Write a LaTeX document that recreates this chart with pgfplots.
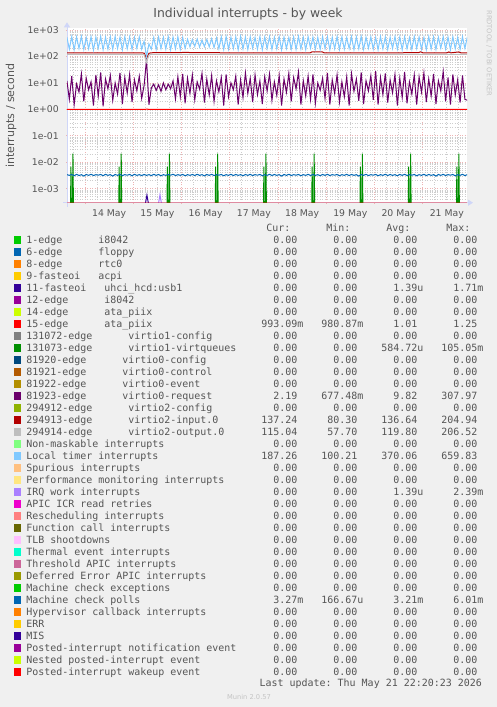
\documentclass[border=0pt]{standalone}
\usepackage{fontspec}
\setmainfont{DejaVu Sans}
\newfontfamily\mono{DejaVu Sans Mono}
\usepackage{pgfplots}
\pgfplotsset{compat=1.18}
\usepackage{pgfplotstable}
\usetikzlibrary{arrows.meta}

\definecolor{bg}{HTML}{F0F0F0}
\definecolor{fg}{HTML}{555555}
\definecolor{wm}{HTML}{C4C4C4}
\definecolor{axc}{HTML}{CFD6F8}
\definecolor{gmaj}{HTML}{EDB4B4}
\definecolor{gmin}{HTML}{CDCDCD}
\definecolor{c00}{HTML}{00CC00}
\definecolor{c01}{HTML}{0066B3}
\definecolor{c02}{HTML}{FF8000}
\definecolor{c03}{HTML}{FFCC00}
\definecolor{c04}{HTML}{330099}
\definecolor{c05}{HTML}{990099}
\definecolor{c06}{HTML}{CCFF00}
\definecolor{c07}{HTML}{FF0000}
\definecolor{c08}{HTML}{808080}
\definecolor{c09}{HTML}{008F00}
\definecolor{c10}{HTML}{00487D}
\definecolor{c11}{HTML}{B35A00}
\definecolor{c12}{HTML}{B38F00}
\definecolor{c13}{HTML}{6B006B}
\definecolor{c14}{HTML}{8FB300}
\definecolor{c15}{HTML}{B30000}
\definecolor{c16}{HTML}{BEBEBE}
\definecolor{c17}{HTML}{80FF80}
\definecolor{c18}{HTML}{80C9FF}
\definecolor{c19}{HTML}{FFC080}
\definecolor{c20}{HTML}{FFE680}
\definecolor{c21}{HTML}{AA80FF}
\definecolor{c22}{HTML}{EE00CC}
\definecolor{c23}{HTML}{FF8080}
\definecolor{c24}{HTML}{666600}
\definecolor{c25}{HTML}{FFBFFF}
\definecolor{c26}{HTML}{00FFCC}
\definecolor{c27}{HTML}{CC6699}
\definecolor{c28}{HTML}{999900}

\newcommand{\vc}[2]{\makebox[60bp][r]{#1\makebox[6bp][l]{#2}}}
\newcommand{\zz}{\vc{0.00}{}}
\newcommand{\hd}[1]{\makebox[60bp][r]{#1\hspace{13bp}}}
\newcommand{\lrow}[5]{\makebox[217bp][l]{#1}#2#3#4#5}

\pgfplotsset{sq/.style={legend image code/.code={\fill[#1] (0bp,-2.2bp) rectangle (6.5bp,4.3bp);}}}

\begin{document}
\frenchspacing
\pgfplotstableread{
t lt p mcp
-9.0 530 12 0.00340
-7.8 190 2.4 0.00320
-6.6 560 18 0.00345
-5.4 180 1.5 0.00310
-4.2 545 9 0.00350
-3.0 200 4.5 0.00315
-1.8 570 22 0.00340
-0.6 185 2.0 0.00300
0.6 520 15 0.00345
1.8 195 5.5 0.00320
3.0 555 11 0.00350
4.2 175 1.4 0.00315
5.4 540 20 0.00340
6.6 205 3.2 0.00325
7.8 565 25 0.00345
9.0 180 1.3 0.00310
10.2 530 14 0.00350
11.4 190 6 0.00320
12.6 550 19 0.00340
13.8 185 2.2 0.00300
15.0 575 10 0.00345
16.2 200 3.8 0.00320
17.4 535 24 0.00350
18.6 180 1.6 0.00315
19.8 560 16 0.00340
21.0 195 4.2 0.00325
22.2 545 21 0.00345
23.4 185 1.9 0.00310
24.6 525 13 0.00350
25.8 200 5 0.00320
27.0 555 18 0.00340
28.2 190 2.6 0.00315
29.4 380 8 0.00345
30.6 98 75 0.00320
31.8 300 1.5 0.00340
33.0 190 6.5 0.00315
34.2 520 9 0.00350
35.4 185 5.2 0.00320
36.6 545 8.5 0.00345
37.8 200 4.8 0.00310
39.0 530 10 0.00340
40.2 190 5.5 0.00320
41.4 560 9 0.00345
42.6 180 6 0.00325
43.8 540 12 0.00350
45.0 195 2.5 0.00315
46.2 555 17 0.00340
47.4 185 3.0 0.00320
48.6 525 22 0.00345
49.8 200 1.7 0.00310
51.0 450 15 0.00340
52.2 230 4.0 0.00320
53.4 430 20 0.00345
54.6 240 2.3 0.00315
55.8 460 11 0.00350
57.0 225 5.8 0.00320
58.2 420 23 0.00340
59.4 235 1.8 0.00305
60.6 440 14 0.00345
61.8 230 3.5 0.00320
63.0 470 19 0.00350
64.2 215 2.0 0.00315
65.4 500 12 0.00340
66.6 195 4.6 0.00325
67.8 550 16 0.00345
69.0 185 1.4 0.00310
70.2 565 21 0.00340
71.4 190 3.0 0.00320
72.6 530 10 0.00350
73.8 200 5.5 0.00315
75.0 550 18 0.00345
76.2 180 1.5 0.00320
77.4 570 13 0.00340
78.6 195 2.8 0.00310
79.8 535 24 0.00345
81.0 185 4.0 0.00320
82.2 545 15 0.00350
83.4 205 1.9 0.00315
84.6 525 20 0.00340
85.8 190 3.6 0.00325
87.0 560 12 0.00345
88.2 180 1.6 0.00310
89.4 540 17 0.00340
90.6 200 5.0 0.00320
91.8 555 22 0.00350
93.0 185 2.2 0.00315
94.2 530 11 0.00345
95.4 195 3.4 0.00320
96.6 565 19 0.00340
97.8 180 1.4 0.00300
99.0 545 14 0.00345
100.2 200 4.4 0.00320
101.4 520 23 0.00350
102.6 190 2.0 0.00315
103.8 550 16 0.00340
105.0 185 6.0 0.00325
106.2 570 26 0.00345
107.4 195 1.5 0.00310
108.6 535 12 0.00340
109.8 180 3.2 0.00320
111.0 555 18 0.00350
112.2 205 2.4 0.00315
113.4 540 21 0.00345
114.6 190 1.7 0.00320
115.8 525 10 0.00340
117.0 185 5.2 0.00310
118.2 560 15 0.00345
119.4 200 2.6 0.00320
120.6 545 24 0.00350
121.8 180 1.5 0.00315
123.0 530 13 0.00340
124.2 195 4.0 0.00325
125.4 565 20 0.00345
126.6 185 1.9 0.00310
127.8 550 11 0.00340
129.0 190 3.0 0.00320
130.2 520 17 0.00350
131.4 200 1.4 0.00315
132.6 555 22 0.00345
133.8 180 4.8 0.00320
135.0 540 14 0.00340
136.2 195 2.1 0.00300
137.4 570 25 0.00345
138.6 185 1.6 0.00320
139.8 535 12 0.00350
141.0 205 5.0 0.00315
142.2 550 19 0.00340
143.4 190 2.3 0.00325
144.6 525 28 0.00345
145.8 180 1.5 0.00310
147.0 560 16 0.00340
148.2 195 3.6 0.00320
149.4 545 23 0.00350
150.6 185 1.8 0.00315
151.8 530 13 0.00345
153.0 200 4.2 0.00320
154.2 565 21 0.00340
155.4 190 1.4 0.00310
156.6 540 15 0.00345
157.8 180 2.8 0.00320
159.0 555 26 0.00350
160.2 195 1.7 0.00315
161.4 520 11 0.00340
162.6 185 3.8 0.00325
163.8 570 20 0.00345
165.0 200 1.5 0.00310
166.2 545 17 0.00340
167.4 190 4.5 0.00320
168.6 530 24 0.00350
169.8 180 1.9 0.00315
171.0 560 14 0.00345
172.2 195 3.2 0.00320
173.4 550 22 0.00340
174.6 185 1.6 0.00300
175.8 535 12 0.00345
177.0 205 5.0 0.00320
178.2 565 27 0.00350
179.4 190 2.0 0.00315
180.6 540 16 0.00340
181.8 180 1.5 0.00325
183.0 555 21 0.00345
184.2 195 3.5 0.00310
185.4 525 13 0.00340
186.6 185 1.8 0.00320
187.8 560 19 0.00350
189.0 200 2.4 0.00315
190.2 545 2.2 0.00340
}\dense
\begin{tikzpicture}
\path[use as bounding box, fill=bg] (0,0) rectangle (497bp,707bp);
\begin{axis}[
  at={(67bp,504.3bp)}, anchor=south west,
  scale only axis, width=400bp, height=174.4bp,
  xmin=-8.96, xmax=190.04,
  ymode=log, ymin=2.96e-4, ymax=1160,
  axis lines=left,
  axis line style={draw=axc, line width=1bp},
  x axis line style={-{Triangle[length=5bp,width=6bp]}, shorten >=-6bp, shorten <=-4bp},
  y axis line style={-{Triangle[length=5bp,width=6bp]}, shorten >=-6bp, shorten <=-4bp},
  axis background/.style={fill=white},
  xtick={0,24,...,168}, xticklabels={},
  minor xtick={-6,6,12,18,30,36,42,54,60,66,78,84,90,102,108,114,126,132,138,150,156,162,174,180,186},
  extra x ticks={12,36,60,84,108,132,156,180},
  extra x tick labels={14 May,15 May,16 May,17 May,18 May,19 May,20 May,21 May},
  extra x tick style={grid=none, major tick length=0pt},
  xmajorgrids, xminorgrids, ymajorgrids, yminorgrids,
  ytick={1e-3,1e-2,1e-1,1,10,100,1000},
  yticklabels={1e-03,1e-02,1e-01,1e+00,1e+01,1e+02,1e+03},
  minor ytick={3e-4,4e-4,5e-4,6e-4,7e-4,8e-4,9e-4,
    2e-3,3e-3,4e-3,5e-3,6e-3,7e-3,8e-3,9e-3,
    2e-2,3e-2,4e-2,5e-2,6e-2,7e-2,8e-2,9e-2,
    0.2,0.3,0.4,0.5,0.6,0.7,0.8,0.9,
    2,3,4,5,6,7,8,9,
    20,30,40,50,60,70,80,90,
    200,300,400,500,600,700,800,900},
  major grid style={draw=gmaj, line width=0.8bp, dash pattern=on 1bp off 1.5bp},
  minor grid style={draw=gmin, line width=0.8bp, dash pattern=on 1bp off 1.5bp},
  every tick/.style={draw=gmaj, line width=0.8bp},
  major tick length=2bp, minor tick length=0pt,
  tick label style={font=\fontsize{9.3bp}{11bp}\selectfont, text=fg, inner sep=0pt},
  yticklabel style={anchor=east, xshift=-7bp},
  xticklabel style={anchor=base, yshift=-13.4bp},
  ylabel={interrupts / second},
  ylabel style={font=\fontsize{11bp}{13bp}\selectfont, text=fg, at={(axis description cs:-0.14,0.5)}, anchor=center},
  title={Individual interrupts - by week},
  title style={font=\fontsize{12.4bp}{14bp}\selectfont, text=fg, at={(axis description cs:0.4525,1)}, anchor=base, yshift=4.5bp, inner sep=0pt},
  legend style={at={(axis description cs:-0.1325,-0.11486)}, anchor=north west, draw=none, fill=none,
    inner sep=0pt, outer sep=0pt, row sep=0pt, column sep=5.5bp,
    font=\mono\fontsize{9.97bp}{12bp}\selectfont, text=fg,
    nodes={inner sep=0pt, text height=8.5bp, text depth=3.5bp}},
  legend cell align=left,
  clip=true,
]
% 11-fasteoi uhci_hcd:usb1
\addplot[c04, line width=1bp, forget plot] coordinates {(30.1,2.9e-4)(30.8,5.7e-4)(31.5,2.9e-4)};
% 15-edge ata_piix
\addplot[c07, line width=1bp, forget plot] coordinates {(-9,1.0)(30,1.0)(30.8,1.03)(31.6,1.0)(190.2,1.0)};
% 131073-edge virtio1-virtqueues
\addplot[c09, line width=1bp, forget plot] coordinates {
(-7.5,1e-6)(-7,0.0068)(-6.5,1e-6)(-6,0.021)(-5.5,1e-6)
(16.5,1e-6)(17,0.0068)(17.5,1e-6)(18,0.021)(18.5,1e-6)
(40.5,1e-6)(41,0.0068)(41.5,1e-6)(42,0.021)(42.5,1e-6)
(64.5,1e-6)(65,0.0068)(65.5,1e-6)(66,0.021)(66.5,1e-6)
(88.5,1e-6)(89,0.0068)(89.5,1e-6)(90,0.021)(90.5,1e-6)
(112.5,1e-6)(113,0.0068)(113.5,1e-6)(114,0.021)(114.5,1e-6)
(136.5,1e-6)(137,0.0068)(137.5,1e-6)(138,0.021)(138.5,1e-6)
(160.5,1e-6)(161,0.0068)(161.5,1e-6)(162,0.021)(162.5,1e-6)
(184.5,1e-6)(185,0.0068)(185.5,1e-6)(186,0.021)(186.5,1e-6)};
% 81923-edge virtio0-request
\addplot[c13, line width=1bp, forget plot] table[x=t,y=p]{\dense};
% 294913-edge virtio2-input.0
\addplot[c15, line width=1bp, forget plot] coordinates {(-9,138)(10,136)(20,137)(29.4,135)(30.6,85)(31.8,132)(33,138)(46,140)(50,142)(56,139)(80,137)(100,136)(112,137)(113,150)(118,150)(119,137)(150,136)(166,140)(167,150)(168,138)(180,137)(181,148)(182,137)(186,148)(187,137)(190.2,137)};
% 294914-edge virtio2-output.0
\addplot[c16, line width=1bp, forget plot] coordinates {(-9,121)(29.4,118)(30.6,60)(31.8,112)(33,121)(190.2,120)};
% Local timer interrupts
\addplot[c18, line width=1bp, forget plot] table[x=t,y=lt]{\dense};
% IRQ work interrupts
\addplot[c21, line width=1bp, forget plot] coordinates {(36.6,2.9e-4)(37.3,5.9e-4)(38.0,2.9e-4)};
% Machine check polls
\addplot[c01, line width=1bp, forget plot] table[x=t,y=mcp]{\dense};
% zero-valued series at the floor
\addplot[c07, line width=1bp, opacity=0.35, forget plot] coordinates {(-9,2.96e-4)(190.2,2.96e-4)};

\addlegendimage{empty legend}\addlegendentry{{\makebox[217bp]{}\hd{Cur:}\hd{Min:}\hd{Avg:}\hd{Max:}}}
\addlegendimage{sq=c00}\addlegendentry{{\lrow{1-edge~~~~~~i8042}{\zz}{\zz}{\zz}{\zz}}}
\addlegendimage{sq=c01}\addlegendentry{{\lrow{6-edge~~~~~~floppy}{\zz}{\zz}{\zz}{\zz}}}
\addlegendimage{sq=c02}\addlegendentry{{\lrow{8-edge~~~~~~rtc0}{\zz}{\zz}{\zz}{\zz}}}
\addlegendimage{sq=c03}\addlegendentry{{\lrow{9-fasteoi~~~acpi}{\zz}{\zz}{\zz}{\zz}}}
\addlegendimage{sq=c04}\addlegendentry{{\lrow{11-fasteoi~~~uhci\_hcd:usb1}{\zz}{\zz}{\vc{1.39}{u}}{\vc{1.71}{m}}}}
\addlegendimage{sq=c05}\addlegendentry{{\lrow{12-edge~~~~~~i8042}{\zz}{\zz}{\zz}{\zz}}}
\addlegendimage{sq=c06}\addlegendentry{{\lrow{14-edge~~~~~~ata\_piix}{\zz}{\zz}{\zz}{\zz}}}
\addlegendimage{sq=c07}\addlegendentry{{\lrow{15-edge~~~~~~ata\_piix}{\vc{993.09}{m}}{\vc{980.87}{m}}{\vc{1.01}{}}{\vc{1.25}{}}}}
\addlegendimage{sq=c08}\addlegendentry{{\lrow{131072-edge~~~~~~virtio1-config}{\zz}{\zz}{\zz}{\zz}}}
\addlegendimage{sq=c09}\addlegendentry{{\lrow{131073-edge~~~~~~virtio1-virtqueues}{\zz}{\zz}{\vc{584.72}{u}}{\vc{105.05}{m}}}}
\addlegendimage{sq=c10}\addlegendentry{{\lrow{81920-edge~~~~~~virtio0-config}{\zz}{\zz}{\zz}{\zz}}}
\addlegendimage{sq=c11}\addlegendentry{{\lrow{81921-edge~~~~~~virtio0-control}{\zz}{\zz}{\zz}{\zz}}}
\addlegendimage{sq=c12}\addlegendentry{{\lrow{81922-edge~~~~~~virtio0-event}{\zz}{\zz}{\zz}{\zz}}}
\addlegendimage{sq=c13}\addlegendentry{{\lrow{81923-edge~~~~~~virtio0-request}{\vc{2.19}{}}{\vc{677.48}{m}}{\vc{9.82}{}}{\vc{307.97}{}}}}
\addlegendimage{sq=c14}\addlegendentry{{\lrow{294912-edge~~~~~~virtio2-config}{\zz}{\zz}{\zz}{\zz}}}
\addlegendimage{sq=c15}\addlegendentry{{\lrow{294913-edge~~~~~~virtio2-input.0}{\vc{137.24}{}}{\vc{80.30}{}}{\vc{136.64}{}}{\vc{204.94}{}}}}
\addlegendimage{sq=c16}\addlegendentry{{\lrow{294914-edge~~~~~~virtio2-output.0}{\vc{115.04}{}}{\vc{57.70}{}}{\vc{119.80}{}}{\vc{206.52}{}}}}
\addlegendimage{sq=c17}\addlegendentry{{\lrow{Non-maskable interrupts}{\zz}{\zz}{\zz}{\zz}}}
\addlegendimage{sq=c18}\addlegendentry{{\lrow{Local timer interrupts}{\vc{187.26}{}}{\vc{100.21}{}}{\vc{370.06}{}}{\vc{659.83}{}}}}
\addlegendimage{sq=c19}\addlegendentry{{\lrow{Spurious interrupts}{\zz}{\zz}{\zz}{\zz}}}
\addlegendimage{sq=c20}\addlegendentry{{\lrow{Performance monitoring interrupts}{\zz}{\zz}{\zz}{\zz}}}
\addlegendimage{sq=c21}\addlegendentry{{\lrow{IRQ work interrupts}{\zz}{\zz}{\vc{1.39}{u}}{\vc{2.39}{m}}}}
\addlegendimage{sq=c22}\addlegendentry{{\lrow{APIC ICR read retries}{\zz}{\zz}{\zz}{\zz}}}
\addlegendimage{sq=c23}\addlegendentry{{\lrow{Rescheduling interrupts}{\zz}{\zz}{\zz}{\zz}}}
\addlegendimage{sq=c24}\addlegendentry{{\lrow{Function call interrupts}{\zz}{\zz}{\zz}{\zz}}}
\addlegendimage{sq=c25}\addlegendentry{{\lrow{TLB shootdowns}{\zz}{\zz}{\zz}{\zz}}}
\addlegendimage{sq=c26}\addlegendentry{{\lrow{Thermal event interrupts}{\zz}{\zz}{\zz}{\zz}}}
\addlegendimage{sq=c27}\addlegendentry{{\lrow{Threshold APIC interrupts}{\zz}{\zz}{\zz}{\zz}}}
\addlegendimage{sq=c28}\addlegendentry{{\lrow{Deferred Error APIC interrupts}{\zz}{\zz}{\zz}{\zz}}}
\addlegendimage{sq=c00}\addlegendentry{{\lrow{Machine check exceptions}{\zz}{\zz}{\zz}{\zz}}}
\addlegendimage{sq=c01}\addlegendentry{{\lrow{Machine check polls}{\vc{3.27}{m}}{\vc{166.67}{u}}{\vc{3.21}{m}}{\vc{6.01}{m}}}}
\addlegendimage{sq=c02}\addlegendentry{{\lrow{Hypervisor callback interrupts}{\zz}{\zz}{\zz}{\zz}}}
\addlegendimage{sq=c03}\addlegendentry{{\lrow{ERR}{\zz}{\zz}{\zz}{\zz}}}
\addlegendimage{sq=c04}\addlegendentry{{\lrow{MIS}{\zz}{\zz}{\zz}{\zz}}}
\addlegendimage{sq=c05}\addlegendentry{{\lrow{Posted-interrupt notification event}{\zz}{\zz}{\zz}{\zz}}}
\addlegendimage{sq=c06}\addlegendentry{{\lrow{Nested posted-interrupt event}{\zz}{\zz}{\zz}{\zz}}}
\addlegendimage{sq=c07}\addlegendentry{{\lrow{Posted-interrupt wakeup event}{\zz}{\zz}{\zz}{\zz}}}
\end{axis}
\node[anchor=base east, font=\mono\fontsize{9.97bp}{12bp}\selectfont, text=fg, inner sep=0pt] at (482bp,20.4bp) {Last update: Thu May 21 22:20:23 2026};
\node[font=\fontsize{6.7bp}{8bp}\selectfont, text=wm, inner sep=0pt] at (249bp,10bp) {Munin 2.0.57};
\node[rotate=-90, font=\fontsize{6.7bp}{8bp}\selectfont, text=wm, inner sep=0pt] at (489bp,653.5bp) {RRDTOOL / TOBI OETIKER};
\end{tikzpicture}
\end{document}
